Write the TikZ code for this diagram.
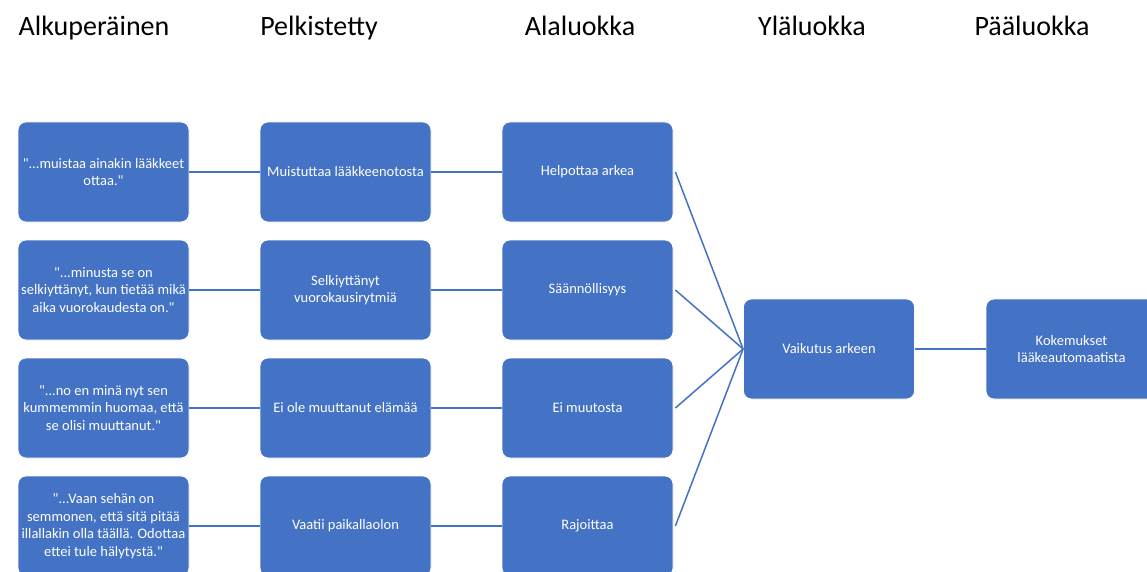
\documentclass[tikz,border=0pt]{standalone}
\usepackage{fontspec}
\setmainfont{Carlito}[Ligatures=TeXOff]
\definecolor{boxblue}{HTML}{4472C4}
\begin{document}
\begin{tikzpicture}[x=1pt,y=-1pt,
  boxnode/.style={rectangle, rounded corners=8pt, fill=boxblue, draw=white, line width=0.8pt,
    minimum width=171pt, minimum height=100pt, inner sep=2pt, text=white,
    font=\fontsize{14.5}{17.5}\selectfont, align=center},
  head/.style={font=\fontsize{28}{34}\selectfont, anchor=base},
  link/.style={draw=boxblue, line width=1.5pt}]
\useasboundingbox (0,0) rectangle (1147,572);

% headings
\node[head] (h1) at (94,36) {Alkuperäinen};
\node[head] (h2) at (319,36) {Pelkistetty};
\node[head] (h3) at (580,36) {Alaluokka};
\node[head] (h4) at (812,36) {Yläluokka};
\node[head] (h5) at (1032,36) {Pääluokka};

% column 1
\node[boxnode] (a1) at (103.5,172) {"...muistaa ainakin lääkkeet\\ottaa."};
\node[boxnode] (a2) at (103.5,290) {"...minusta se on\\selkiyttänyt, kun tietää mikä\\aika vuorokaudesta on."};
\node[boxnode] (a3) at (103.5,408) {"...no en minä nyt sen\\kummemmin huomaa, että\\se olisi muuttanut."};
\node[boxnode] (a4) at (103.5,526) {"...Vaan sehän on\\semmonen, että sitä pitää\\illallakin olla täällä. Odottaa\\ettei tule hälytystä."};

% column 2
\node[boxnode] (b1) at (345.5,172) {Muistuttaa lääkkeenotosta};
\node[boxnode] (b2) at (345.5,290) {Selkiyttänyt\\vuorokausirytmiä};
\node[boxnode] (b3) at (345.5,408) {Ei ole muuttanut elämää};
\node[boxnode] (b4) at (345.5,526) {Vaatii paikallaolon};

% column 3
\node[boxnode] (c1) at (587.5,172) {Helpottaa arkea};
\node[boxnode] (c2) at (587.5,290) {Säännöllisyys};
\node[boxnode] (c3) at (587.5,408) {Ei muutosta};
\node[boxnode] (c4) at (587.5,526) {Rajoittaa};

% column 4, 5
\node[boxnode] (d) at (829,349) {Vaikutus arkeen};
\node[boxnode] (e) at (1071.5,349) {Kokemukset\\lääkeautomaatista};

% connectors
\foreach \i in {1,2,3,4}{
  \draw[link] (a\i.east) -- (b\i.west);
  \draw[link] (b\i.east) -- (c\i.west);
  \draw[link] ([xshift=2pt]c\i.east) -- (d.west);
}
\draw[link] (d.east) -- (e.west);
\end{tikzpicture}
\end{document}
